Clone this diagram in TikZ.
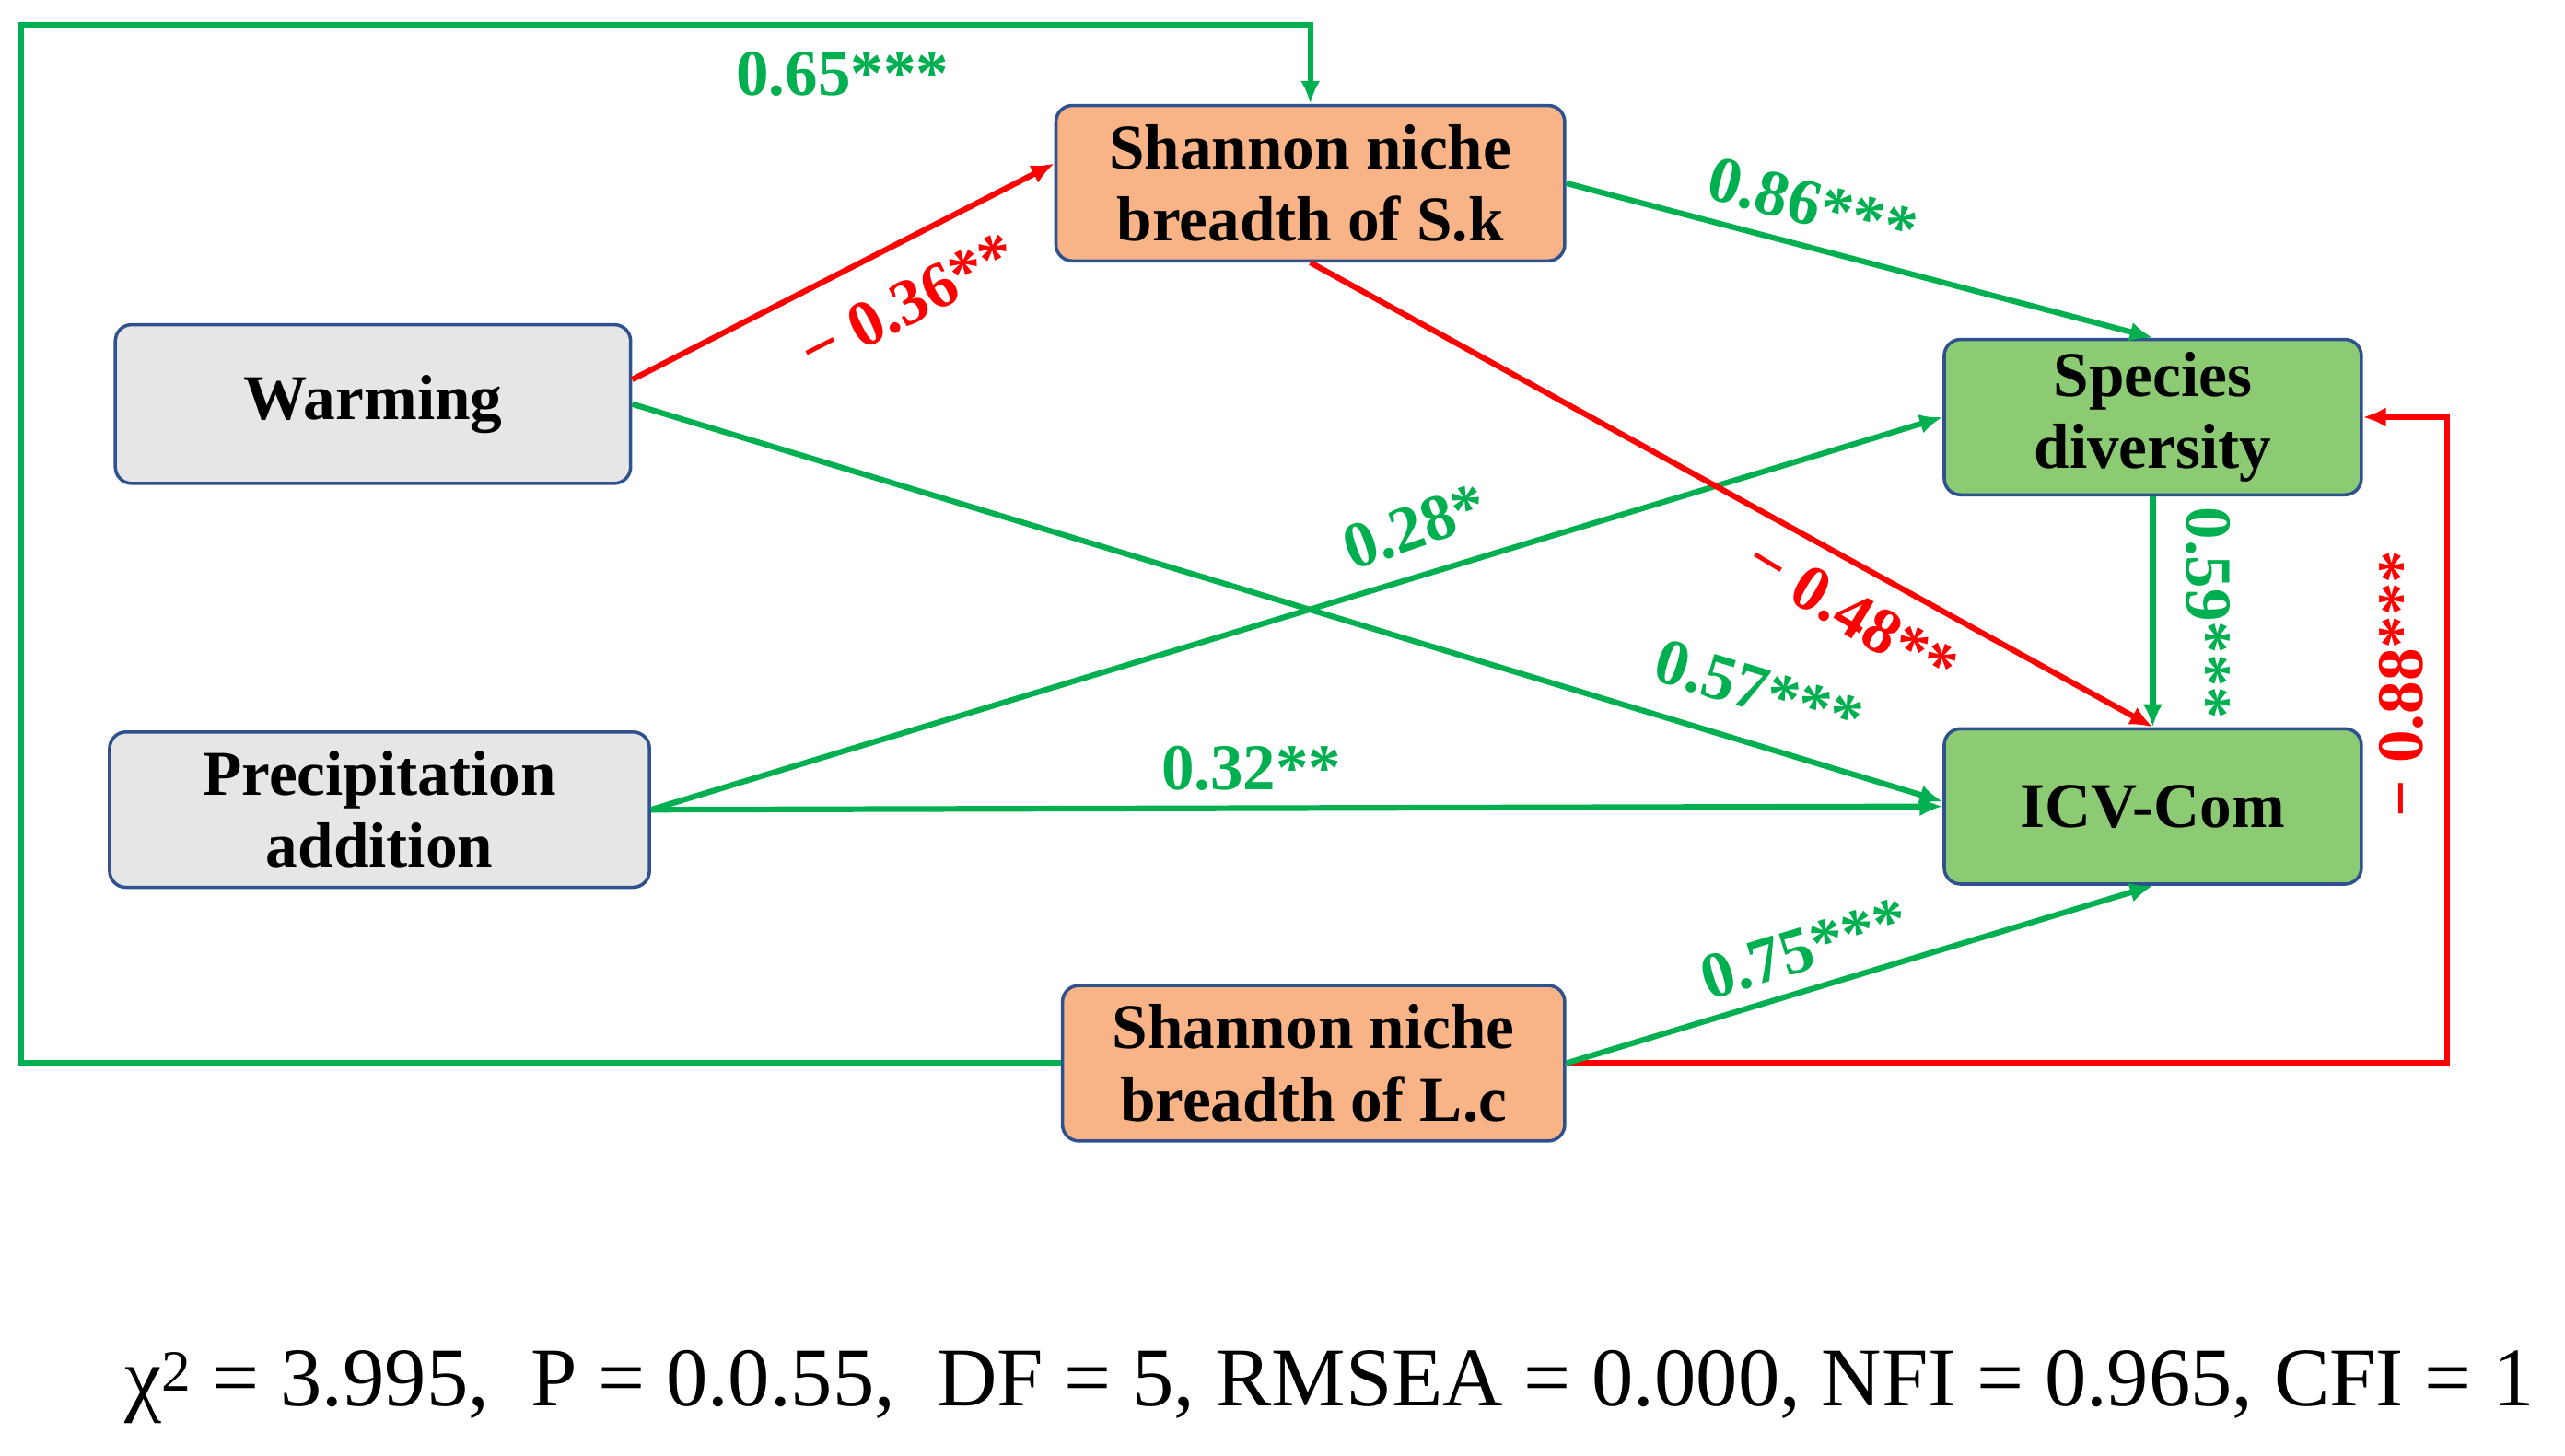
\documentclass[tikz,border=0pt]{standalone}
\usepackage{fontspec}
\setmainfont{Liberation Serif}
\usetikzlibrary{arrows.meta}
\definecolor{gr}{RGB}{0,176,80}
\definecolor{rd}{RGB}{255,0,0}
\definecolor{bd}{RGB}{47,82,143}
\definecolor{gy}{RGB}{230,230,230}
\definecolor{og}{RGB}{248,180,135}
\definecolor{gn}{RGB}{140,203,115}
\begin{document}
\begin{tikzpicture}[x=1pt,y=-1pt,
 box/.style={draw=bd,line width=2pt,rounded corners=10pt,align=center,font=\fontsize{39}{44}\selectfont\bfseries,inner sep=0pt},
 g/.style={draw=gr,line width=3.5pt,-{Latex[length=14pt,width=12pt]}},
 r/.style={draw=rd,line width=3.5pt,-{Latex[length=14pt,width=12pt]}},
 gl/.style={text=gr,font=\fontsize{40}{44}\selectfont\bfseries,inner sep=0pt},
 rl/.style={text=rd,font=\fontsize{40}{44}\selectfont\bfseries,inner sep=0pt}]
\useasboundingbox (0,0) rectangle (1568,890);
\node[box,fill=gy,minimum width=315pt,minimum height=97pt] (w) at (228,247) {Warming};
\node[box,fill=gy,minimum width=330pt,minimum height=95pt] (p) at (232,495) {Precipitation\\addition};
\node[box,fill=og,minimum width=311pt,minimum height=95pt] (sk) at (801,112) {Shannon niche\\breadth of S.k};
\node[box,fill=og,minimum width=307pt,minimum height=95pt] (lc) at (803,650) {Shannon niche\\breadth of L.c};
\node[box,fill=gn,minimum width=255pt,minimum height=95pt] (sd) at (1316,255) {Species\\diversity};
\node[box,fill=gn,minimum width=255pt,minimum height=95pt] (icv) at (1316,493) {ICV-Com};
\coordinate (g1) at (13,650); \coordinate (g2) at (13,15); \coordinate (g3) at (801,15);
\coordinate (r1) at (1496,650); \coordinate (r2) at (1496,255);
\draw[g] (lc.west) -- (g1) -- (g2) -- (g3) -- (sk.north);
\draw[r] (lc.east) -- (r1) -- (r2) -- (sd.east);
\draw[r] (w.east|-0,232) -- (sk.west|-0,100);
\draw[g] (w.east) -- (icv.west|-0,490);
\draw[g] (p.east) -- (sd.west);
\draw[g] (p.east) -- (icv.west);
\draw[g] (sk.east) -- (sd.north);
\draw[r] (sk.south) -- (icv.north);
\draw[g] (sd.south) -- (icv.north);
\draw[g] (lc.east) -- (icv.south);
\node[gl] (l65) at (515,45) {0.65***};
\node[rl,rotate=27] (l36) at (555,185) {− 0.36**};
\node[gl,rotate=-15] (l86) at (1108,125) {0.86***};
\node[gl,rotate=19] (l28) at (865,322) {0.28*};
\node[rl,rotate=-31] (l48) at (1132,375) {− 0.48**};
\node[gl,rotate=-17] (l57) at (1075,422) {0.57***};
\node[gl] (l32) at (765,470) {0.32**};
\node[gl,rotate=-90] (l59) at (1350,375) {0.59***};
\node[rl,rotate=90] (l88) at (1468,418) {− 0.88***};
\node[gl,rotate=17] (l75) at (1103,580) {0.75***};
\node[anchor=west,font=\fontsize{51}{56}\selectfont,inner sep=0pt] (f) at (76,848) {χ\textsuperscript{2} = 3.995,\ \ P = 0.0.55,\ \ DF = 5, RMSEA = 0.000, NFI = 0.965, CFI = 1};
\end{tikzpicture}
\end{document}
